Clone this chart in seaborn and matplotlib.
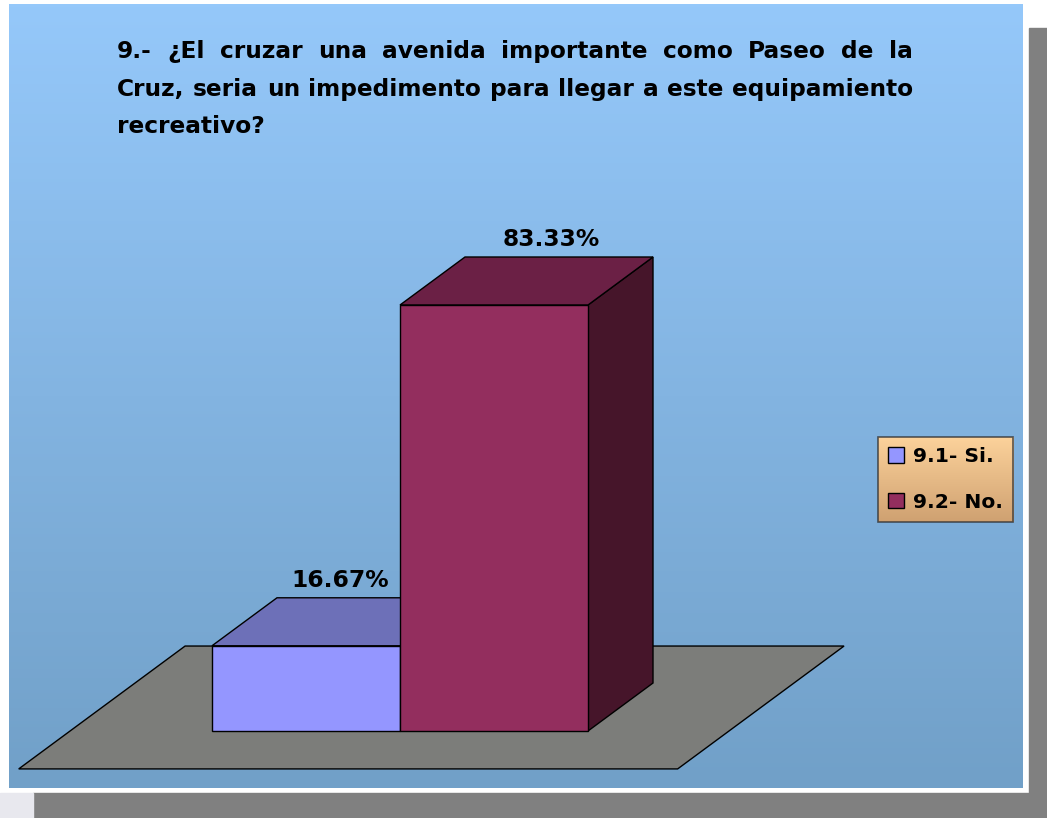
import numpy as np
import matplotlib
matplotlib.use('Agg')
import matplotlib.pyplot as plt
import matplotlib.colors as mcolors
import seaborn as sns
from matplotlib.patches import Polygon, Rectangle

# data
categories = ['9.1- Si.', '9.2- No.']
values = [16.67, 83.33]
value_labels = ['16.67%', '83.33%']
front_colors = ['#9496ff', '#932e5e']
top_colors = ['#6d70b8', '#6b2045']
side_colors = ['#5a5c9c', '#46152a']
title_lines = ['9.- ¿El cruzar una avenida importante como Paseo de la',
               'Cruz, seria un impedimento para llegar a este equipamiento',
               'recreativo?']

sns.set_style('white')
plt.rcParams['font.family'] = ['DejaVu Sans']
plt.rcParams['text.color'] = 'black'

# layout (pixels of the 1047x818 picture)
W, H = 1047, 818
X_PX = 188.0          # px per category
Y_PX = 426.0 / 83.33  # px per percent
X0_PX, BASE_PX = 306, 731
DEPTH_PX = (65, 48)
LABEL_NUDGE_PX = [2, 25]


def fx(px):
    return px / W


def fy(py):
    return 1 - py / H


def gradient(c1, c2, n=256):
    a = np.array(mcolors.to_rgb(c1))
    b = np.array(mcolors.to_rgb(c2))
    t = np.linspace(0, 1, n)[:, None]
    return (a * (1 - t) + b * t)[:, None, :]


fig = plt.figure(figsize=(W / 100, H / 100), dpi=100)
fig.patch.set_facecolor('white')

# drop shadow of the chart panel
fig.add_artist(Rectangle((fx(1029), fy(818)), fx(18), 790 / H, color='#808080',
                         transform=fig.transFigure, zorder=-2))
fig.add_artist(Rectangle((fx(33), fy(818)), fx(1014), 25 / H, color='#808080',
                         transform=fig.transFigure, zorder=-2))
fig.add_artist(Rectangle((0, fy(818)), fx(33), 25 / H, color='#e8e8ee',
                         transform=fig.transFigure, zorder=-2))

# panel with blue gradient
bg = fig.add_axes([fx(9), fy(788), fx(1014), 784 / H])
bg.imshow(gradient('#95c8fa', '#71a0c8'), aspect='auto', extent=[0, 1, 0, 1])
bg.axis('off')
bg.set_zorder(0)

# main axes, linear mapping over whole figure
ax = fig.add_axes([0, 0, 1, 1])
ax.set_zorder(2)
ax.patch.set_visible(False)

sns.barplot(x=categories, y=values, hue=categories, palette=front_colors,
            width=1, saturation=1, edgecolor='black', linewidth=1,
            legend=False, ax=ax, zorder=3)
bars = list(ax.patches)

ax.set_xlim(-X0_PX / X_PX, (W - X0_PX) / X_PX)
ax.set_ylim(-(H - BASE_PX) / Y_PX, BASE_PX / Y_PX)
ax.axis('off')

dx = DEPTH_PX[0] / X_PX
dy = DEPTH_PX[1] / Y_PX

# floor
fa, fb = -1.255, 2.25
d0, d1 = -0.79, 1.77
floor = [(fa + d0 * dx, d0 * dy), (fb + d0 * dx, d0 * dy),
         (fb + d1 * dx, d1 * dy), (fa + d1 * dx, d1 * dy)]
ax.add_patch(Polygon(floor, closed=True, fc='#7c7d7a', ec='black', lw=1, zorder=1))

# 3d faces + labels
for i, p in enumerate(bars):
    x0 = p.get_x()
    x1 = x0 + p.get_width()
    h = p.get_height()
    top = [(x0, h), (x1, h), (x1 + dx, h + dy), (x0 + dx, h + dy)]
    side = [(x1, 0), (x1 + dx, dy), (x1 + dx, h + dy), (x1, h)]
    ax.add_patch(Polygon(side, closed=True, fc=side_colors[i], ec='black', lw=1, zorder=2))
    ax.add_patch(Polygon(top, closed=True, fc=top_colors[i], ec='black', lw=1, zorder=2))
    cx = x0 + p.get_width() / 2 + dx / 2 + LABEL_NUDGE_PX[i] / X_PX
    ax.text(cx, h + dy + 11 / Y_PX, value_labels[i], ha='center', va='baseline',
            fontsize=16.8, fontweight='bold', color='black', zorder=5)

# legend
leg = ax.legend(handles=bars, labels=categories, loc='upper left',
                bbox_to_anchor=(fx(878), fy(437)), bbox_transform=fig.transFigure,
                prop=dict(weight='bold', size=14.6), frameon=True, fancybox=False,
                handlelength=0.78, handleheight=0.78, handletextpad=0.45,
                labelspacing=1.3, borderpad=0.5, borderaxespad=0)
leg.get_frame().set_facecolor('none')
leg.get_frame().set_edgecolor('#333333')
leg.get_frame().set_linewidth(1.2)
for t in leg.get_texts():
    t.set_color('black')

fig.canvas.draw()
renderer = fig.canvas.get_renderer()
bb = fig.transFigure.inverted().transform_bbox(leg.get_window_extent(renderer))
lg = fig.add_axes(bb.bounds)
lg.imshow(gradient('#fcd29b', '#cfa171'), aspect='auto', extent=[0, 1, 0, 1])
lg.axis('off')
lg.set_zorder(1)

# title, justified like the original text box
left_px, right_px = 117, 913
probe = fig.text(0, 0, title_lines[1], fontsize=10, fontweight='bold')
w10 = probe.get_window_extent(renderer).width
probe.remove()
title_fs = min(16.8, 10 * (right_px - left_px) / w10 * 0.995)

baselines = [58, 96, 133]
for k, line in enumerate(title_lines):
    words = line.split(' ')
    if k == len(title_lines) - 1:
        fig.text(fx(left_px), fy(baselines[k]), line, fontsize=title_fs,
                 fontweight='bold', va='baseline', ha='left', color='black')
        continue
    widths = []
    for w in words:
        t = fig.text(0, 0, w, fontsize=title_fs, fontweight='bold')
        widths.append(t.get_window_extent(renderer).width)
        t.remove()
    gap = (right_px - left_px - sum(widths)) / (len(words) - 1)
    x = left_px
    for w, ww in zip(words, widths):
        fig.text(fx(x), fy(baselines[k]), w, fontsize=title_fs,
                 fontweight='bold', va='baseline', ha='left', color='black')
        x += ww + gap

fig.savefig('out.png', dpi=100)
